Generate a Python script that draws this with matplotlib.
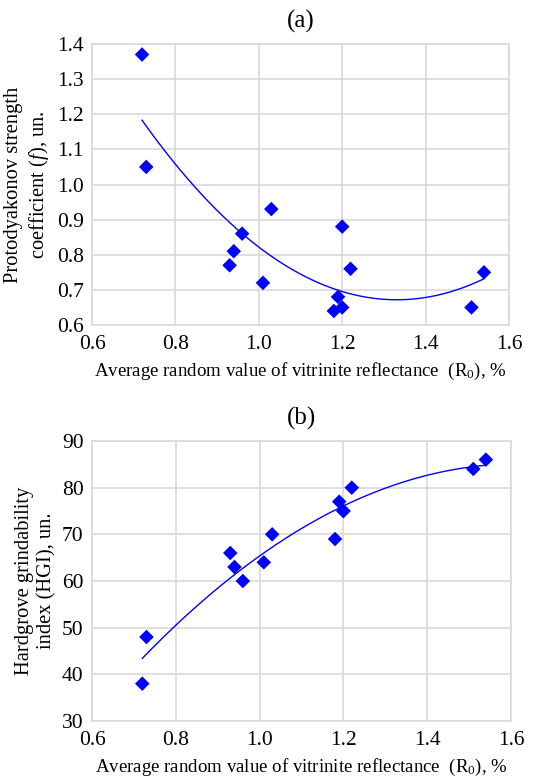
import numpy as np
import matplotlib
matplotlib.use("Agg")
import matplotlib.pyplot as plt

plt.rcParams['font.family'] = ['Liberation Serif']
plt.rcParams['mathtext.fontset'] = 'custom'
plt.rcParams['mathtext.rm'] = 'Liberation Serif'
plt.rcParams['mathtext.it'] = 'Liberation Serif:italic'

# Panel (a) data
ro_a = [0.72, 0.73, 0.93, 0.94, 0.96, 1.01, 1.03, 1.18, 1.19, 1.20, 1.20, 1.22, 1.51, 1.54]
f_a = [1.37, 1.05, 0.77, 0.81, 0.86, 0.72, 0.93, 0.64, 0.68, 0.65, 0.88, 0.76, 0.65, 0.75]

# Panel (b) data
ro_b = [0.72, 0.73, 0.93, 0.94, 0.96, 1.01, 1.03, 1.18, 1.19, 1.20, 1.20, 1.22, 1.51, 1.54]
hgi_b = [38, 48, 66, 63, 60, 64, 70, 69, 77, 75, 75, 80, 84, 86]

xticks = [0.6, 0.8, 1.0, 1.2, 1.4, 1.6]
yticks_a = [0.6, 0.7, 0.8, 0.9, 1.0, 1.1, 1.2, 1.3, 1.4]
yticks_b = [30, 40, 50, 60, 70, 80, 90]

W, H = 541, 778
fig = plt.figure(figsize=(W / 100, H / 100), dpi=100)

def ax_rect(l, t, r, b):
    return [l / W, 1 - b / H, (r - l) / W, (b - t) / H]

axa = fig.add_axes(ax_rect(92, 44, 509, 325))
axb = fig.add_axes(ax_rect(92, 441, 511, 721))

xlab = "Average random value of vitrinite reflectance  (R$_0$), %"

def style(ax, yticks, fmt):
    ax.set_xlim(0.6, 1.6)
    ax.set_ylim(yticks[0], yticks[-1])
    ax.set_xticks(xticks)
    ax.set_xticklabels([f"{t:.1f}" for t in xticks])
    ax.set_yticks(yticks)
    ax.set_yticklabels([fmt(t) for t in yticks])
    ax.grid(True, color='#d9d9d9', linewidth=1.2)
    ax.set_axisbelow(True)
    for s in ax.spines.values():
        s.set_color('#d9d9d9')
        s.set_linewidth(1.2)
    ax.tick_params(length=0, labelsize=15.5)
    ax.tick_params(axis='y', pad=6)
    ax.tick_params(axis='x', pad=7)
    ax.set_xlabel(xlab, fontsize=13.6, labelpad=5)

def draw(ax, x, y):
    c = np.polyfit(x, y, 2)
    xs = np.linspace(min(x), max(x), 200)
    ax.plot(xs, np.polyval(c, xs), color='#0000ff', linewidth=1.0, zorder=2)
    ax.scatter(x, y, marker='D', s=55, color='#0000ff', edgecolors='none', zorder=3)

draw(axa, ro_a, f_a)
style(axa, yticks_a, lambda t: f"{t:.1f}")
axa.set_ylabel("Protodyakonov strength\ncoefficient ($\\it{f}$), un.", fontsize=14.8, labelpad=4, linespacing=1.25)
axa.set_title("(a)", fontsize=18, pad=12)

draw(axb, ro_b, hgi_b)
style(axb, yticks_b, lambda t: f"{t:d}")
axb.set_ylabel("Hardgrove grindability\nindex (HGI), un.", fontsize=14.8, labelpad=4, linespacing=1.25)
axb.set_title("(b)", fontsize=18, pad=12)

fig.savefig("out.png", dpi=100)
